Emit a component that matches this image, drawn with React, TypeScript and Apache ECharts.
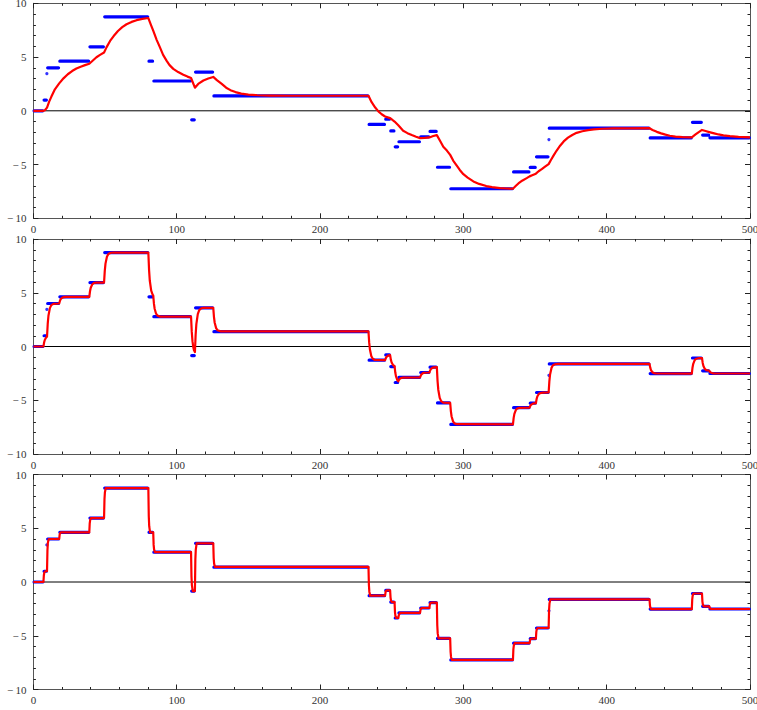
import React, { useEffect, useRef } from "react";
import * as echarts from "echarts";

// Step input: transition times and the level held after each transition
const STEP_T = [0, 7, 9.5, 18, 39, 49.3, 80.2, 83.6, 110, 112.7, 125.5, 233.8, 245.4, 248.9, 252, 254.6, 269.8, 276.3, 281.5, 290.8, 334.6, 346.2, 350.6, 359.5, 429.9, 459.4, 466.5, 471.6, 500];
const STEP_V = [0, 1.0, 4.0, 4.62, 5.95, 8.74, 4.62, 2.77, -0.84, 3.6, 1.38, -1.27, -0.78, -1.87, -3.35, -2.88, -2.42, -1.92, -5.25, -7.25, -5.69, -5.27, -4.28, -1.62, -2.52, -1.07, -2.26, -2.51];
// isolated transitional samples
const DOT_T = [9.4, 359.7];
const DOT_V = [3.45, -2.68];

// Slow response (top panel)
const RED_TOP: [number, number][] = [
  [0, 0], [7, 0], [8, 0.05], [9.5, 0.3], [11, 0.85], [12.5, 1.3], [15, 2.0], [18, 2.55], [21, 3.02], [24, 3.4], [27, 3.7], [30, 3.93], [33, 4.1], [36, 4.25], [39, 4.38],
  [41.5, 4.68], [44, 4.98], [46.5, 5.2], [49.3, 5.42], [51, 5.9], [53.5, 6.5], [56, 6.95], [59, 7.42], [62, 7.78], [65, 8.05], [68.5, 8.27], [72, 8.43], [76, 8.55], [80.2, 8.63],
  [82, 8.0], [83.6, 7.45], [86, 6.6], [88.3, 5.9], [90.5, 5.2], [93, 4.65], [95, 4.25], [97.6, 3.9], [101, 3.6], [104.6, 3.35], [107.5, 3.18], [110, 3.05], [112.7, 2.15],
  [115, 2.5], [118.6, 2.82], [122, 3.0], [125.5, 3.15], [128, 2.85], [131.4, 2.5], [134.5, 2.15], [137.5, 1.92], [141, 1.74], [145, 1.6], [150, 1.51], [156, 1.45], [165, 1.42],
  [180, 1.4], [233.8, 1.4], [236, 0.8], [238.5, 0.3], [240.7, -0.05], [243, -0.32], [245.4, -0.53], [248.9, -0.68], [250.5, -0.85], [252, -1.0], [254.6, -1.35], [258, -1.86],
  [261, -2.08], [264, -2.26], [267, -2.42], [269.8, -2.54], [273, -2.52], [276.3, -2.48], [279, -2.35], [281.5, -2.26], [284, -2.85], [286, -3.35], [288.5, -3.7], [290.8, -4.1],
  [293, -4.65], [295.4, -5.1], [297.5, -5.5], [300, -5.9], [303, -6.22], [307, -6.57], [311, -6.8], [316, -7.0], [320, -7.1], [325.6, -7.19], [330, -7.23], [334.6, -7.25],
  [336.5, -7.0], [338.4, -6.76], [341, -6.5], [344.2, -6.26], [346.2, -6.1], [348, -6.0], [350.6, -5.85], [352.5, -5.62], [354.7, -5.43], [357, -5.2], [359.5, -4.96],
  [361, -4.6], [363, -4.15], [365, -3.72], [367.5, -3.25], [370, -2.85], [373, -2.5], [376, -2.25], [379, -2.05], [383, -1.9], [387, -1.8], [391, -1.73], [397, -1.67],
  [405, -1.64], [415, -1.63], [429.9, -1.62], [432, -1.78], [435, -1.96], [438, -2.1], [441, -2.22], [444, -2.32], [448, -2.4], [453, -2.45], [459.4, -2.48], [462, -2.2],
  [464, -2.0], [466.5, -1.78], [469, -1.88], [471.6, -1.98], [475, -2.1], [478, -2.2], [481.5, -2.28], [486, -2.36], [492, -2.43], [500, -2.47],
];

// Medium response (middle panel)
const RED_MID: [number, number][] = [
  [0, 0], [7, 0], [7.5, 0.39], [8, 0.63], [9, 0.86], [9.5, 0.92],
  [10, 2.12], [10.5, 2.86], [11.5, 3.57], [12.5, 3.85], [14, 3.97], [18, 4.0],
  [18.5, 4.24], [19, 4.39], [20, 4.53], [21, 4.59], [23, 4.62], [39, 4.62],
  [39.5, 5.14], [40, 5.46], [41, 5.76], [42, 5.89], [44, 5.95], [49.3, 5.95],
  [49.8, 7.04], [50.3, 7.71], [51.3, 8.35], [52.3, 8.6], [54, 8.72], [56, 8.74], [80.2, 8.74],
  [80.7, 7.13], [81.2, 6.14], [82.2, 5.19], [83.2, 4.83], [83.6, 4.76],
  [84.1, 3.98], [84.6, 3.51], [85.6, 3.05], [86.6, 2.87], [88.5, 2.78], [110, 2.77],
  [110.5, 1.36], [111, 0.5], [111.5, -0.02], [112, -0.32], [112.7, -0.52],
  [113.2, 1.09], [113.7, 2.08], [114.7, 3.02], [115.7, 3.39], [117.2, 3.56], [119, 3.6], [125.5, 3.6],
  [126, 2.74], [126.5, 2.21], [127.5, 1.71], [128.5, 1.51], [130.5, 1.41], [233.8, 1.4],
  [234.3, 0.36], [234.8, -0.28], [235.8, -0.9], [236.8, -1.14], [238.3, -1.25], [245.4, -1.27],
  [245.9, -1.08], [246.4, -0.96], [247.4, -0.85], [248.4, -0.81], [248.9, -0.8],
  [249.4, -1.22], [249.9, -1.47], [250.9, -1.72], [252, -1.82],
  [252.5, -2.42], [253, -2.78], [254, -3.14], [254.6, -3.24],
  [255.1, -3.1], [255.6, -3.01], [256.6, -2.93], [258, -2.89], [269.8, -2.88],
  [270.3, -2.7], [270.8, -2.59], [271.8, -2.48], [273, -2.44], [276.3, -2.42],
  [276.8, -2.23], [277.3, -2.11], [278.3, -1.99], [279.5, -1.94], [281.5, -1.92],
  [282, -3.22], [282.5, -4.02], [283.5, -4.78], [284.5, -5.08], [286, -5.22], [290.8, -5.25],
  [291.3, -6.03], [291.8, -6.51], [292.8, -6.97], [293.8, -7.15], [295.5, -7.23], [334.6, -7.25],
  [335.1, -6.64], [335.6, -6.27], [336.6, -5.91], [337.6, -5.77], [339, -5.71], [346.2, -5.69],
  [346.7, -5.53], [347.2, -5.43], [348.2, -5.33], [349.5, -5.29], [350.6, -5.28],
  [351.1, -4.89], [351.6, -4.65], [352.6, -4.42], [353.6, -4.33], [355.5, -4.29], [359.5, -4.28],
  [360, -3.24], [360.5, -2.6], [361.5, -1.99], [362.5, -1.75], [364, -1.65], [366, -1.62], [429.9, -1.62],
  [430.4, -1.97], [430.9, -2.19], [431.9, -2.39], [432.9, -2.47], [434.5, -2.51], [459.4, -2.52],
  [459.9, -1.95], [460.4, -1.61], [461.4, -1.27], [462.4, -1.14], [464, -1.09], [466.5, -1.07],
  [467, -1.53], [467.5, -1.82], [468.5, -2.09], [469.5, -2.2], [471.6, -2.26],
  [472.1, -2.36], [472.6, -2.42], [473.6, -2.47], [475, -2.5], [500, -2.51],
];

// Fast response (bottom panel)
const RED_BOT: [number, number][] = [
  [0, 0], [7, 0], [7.3, 0.63], [7.6, 0.86], [8.2, 1.0],
  [9.5, 1.0], [9.8, 2.94], [10.1, 3.65], [10.7, 4.0],
  [18, 4.0], [18.3, 4.39], [18.6, 4.53], [19.2, 4.62],
  [39, 4.62], [39.3, 5.46], [39.6, 5.76], [40.2, 5.95],
  [49.3, 5.95], [49.6, 7.71], [49.9, 8.35], [50.5, 8.74],
  [80.2, 8.74], [80.5, 6.14], [80.8, 5.19], [81.4, 4.62],
  [83.6, 4.62], [83.9, 3.45], [84.2, 3.03], [84.8, 2.77],
  [110, 2.77], [110.3, 0.5], [110.6, -0.32], [111.2, -0.84],
  [112.7, -0.84], [113, 2.08], [113.3, 3.02], [113.9, 3.6],
  [125.5, 3.6], [125.8, 2.21], [126.1, 1.71], [126.7, 1.4],
  [233.8, 1.4], [234.1, -0.28], [234.4, -0.9], [235, -1.27],
  [245.4, -1.27], [245.7, -0.96], [246, -0.85], [246.6, -0.78],
  [248.9, -0.78], [249.2, -1.45], [249.5, -1.72], [250.1, -1.87],
  [252, -1.87], [252.3, -2.83], [252.6, -3.16], [253.2, -3.35],
  [254.6, -3.35], [254.9, -3.12], [255.2, -3.03], [255.8, -2.88],
  [269.8, -2.88], [270.1, -2.59], [270.4, -2.48], [271, -2.42],
  [276.3, -2.42], [276.6, -2.11], [276.9, -1.99], [277.5, -1.92],
  [281.5, -1.92], [281.8, -4.02], [282.1, -4.78], [282.7, -5.25],
  [290.8, -5.25], [291.1, -6.51], [291.4, -6.97], [292, -7.25],
  [334.6, -7.25], [334.9, -6.27], [335.2, -5.91], [335.8, -5.69],
  [346.2, -5.69], [346.5, -5.43], [346.8, -5.33], [347.4, -5.27],
  [350.6, -5.27], [350.9, -4.64], [351.2, -4.41], [351.8, -4.28],
  [359.5, -4.28], [359.8, -2.6], [360.1, -1.99], [360.7, -1.62],
  [429.9, -1.62], [430.2, -2.19], [430.5, -2.39], [431.1, -2.52],
  [459.4, -2.52], [459.7, -1.61], [460, -1.27], [460.6, -1.07],
  [466.5, -1.07], [466.8, -1.82], [467.1, -2.09], [467.7, -2.26],
  [471.6, -2.26], [471.9, -2.42], [472.2, -2.47], [472.8, -2.51], [500, -2.51],
];

const X_RANGE = [0, 500];
const Y_RANGE = [-10, 10];
const ZERO_LINE: [number, number][] = [[0, 0], [500, 0]];

const FONT = "Liberation Serif";

function stepData(): (number | string)[][] {
  const out: (number | string)[][] = [];
  for (let i = 0; i < STEP_V.length; i++) {
    out.push([STEP_T[i] + 0.45, STEP_V[i]]);
    out.push([STEP_T[i + 1] - 0.45, STEP_V[i]]);
    out.push([STEP_T[i + 1], "-"]);
  }
  return out;
}

export default function App() {
  const ref = useRef<HTMLDivElement>(null);
  useEffect(() => {
    if (!ref.current) return;
    const chart = echarts.init(ref.current, undefined, { renderer: "svg" });
    const tops = [3.3, 239, 474.5];
    const grids = tops.map((t) => ({
      left: 33.4,
      right: 7,
      top: t,
      height: 215,
      containLabel: false,
      outerBoundsMode: "none",
    }));
    const tickStyle = { color: "#222", width: 1 };
    const lineStyle = { color: "#555", width: 1 };
    const xAxes: any[] = [];
    const yAxes: any[] = [];
    tops.forEach((_, i) => {
      ["bottom", "top"].forEach((pos) => {
        xAxes.push({
          gridIndex: i,
          type: "value",
          position: pos,
          min: X_RANGE[0],
          max: X_RANGE[1],
          interval: 100,
          axisLine: { show: true, onZero: false, lineStyle },
          axisTick: { show: true, inside: true, length: 5, lineStyle: tickStyle },
          minorTick: { show: true, splitNumber: 5, length: 2.5, lineStyle: tickStyle },
          splitLine: { show: false },
          minorSplitLine: { show: false },
          axisLabel: {
            show: pos === "bottom",
            fontFamily: FONT,
            fontSize: 11,
            color: "#333",
            margin: 5,
          },
        });
      });
      ["left", "right"].forEach((pos) => {
        yAxes.push({
          gridIndex: i,
          type: "value",
          position: pos,
          min: Y_RANGE[0],
          max: Y_RANGE[1],
          interval: 5,
          axisLine: { show: true, onZero: false, lineStyle },
          axisTick: { show: true, inside: true, length: 5, lineStyle: tickStyle },
          minorTick: { show: true, splitNumber: 5, length: 2.5, lineStyle: tickStyle },
          splitLine: { show: false },
          minorSplitLine: { show: false },
          axisLabel: {
            show: pos === "left",
            fontFamily: FONT,
            fontSize: 11,
            color: "#333",
            margin: 7,
            formatter: (v: number) => (v < 0 ? "\u2212\u2009" + Math.abs(v) : String(v)),
          },
        });
      });
    });

    const reds = [RED_TOP, RED_MID, RED_BOT];
    const series: any[] = [];
    reds.forEach((red, i) => {
      const xi = i * 2;
      const yi = i * 2;
      series.push({
        type: "line",
        xAxisIndex: xi,
        yAxisIndex: yi,
        data: ZERO_LINE,
        showSymbol: false,
        lineStyle: { color: "#000", width: 1 },
        z: 1,
        silent: true,
      });
      series.push({
        type: "line",
        xAxisIndex: xi,
        yAxisIndex: yi,
        data: stepData(),
        showSymbol: false,
        connectNulls: false,
        lineStyle: { color: "#0000ff", width: 3.2, cap: "round" },
        z: 2,
        silent: true,
      });
      series.push({
        type: "scatter",
        xAxisIndex: xi,
        yAxisIndex: yi,
        data: DOT_T.map((t, k) => [t, DOT_V[k]]),
        symbol: "circle",
        symbolSize: 3.2,
        itemStyle: { color: "#0000ff" },
        z: 2,
        silent: true,
      });
      series.push({
        type: "line",
        xAxisIndex: xi,
        yAxisIndex: yi,
        data: red,
        showSymbol: false,
        lineStyle: { color: "#ff0000", width: 2.2, join: "round" },
        z: 3,
        silent: true,
      });
    });

    chart.setOption({
      animation: false,
      backgroundColor: "#ffffff",
      grid: grids,
      xAxis: xAxes,
      yAxis: yAxes,
      series,
    });
    return () => chart.dispose();
  }, []);
  return (
    <div
      ref={ref}
      style={{ position: "fixed", left: 0, top: 0, width: 757, height: 710 }}
    />
  );
}
